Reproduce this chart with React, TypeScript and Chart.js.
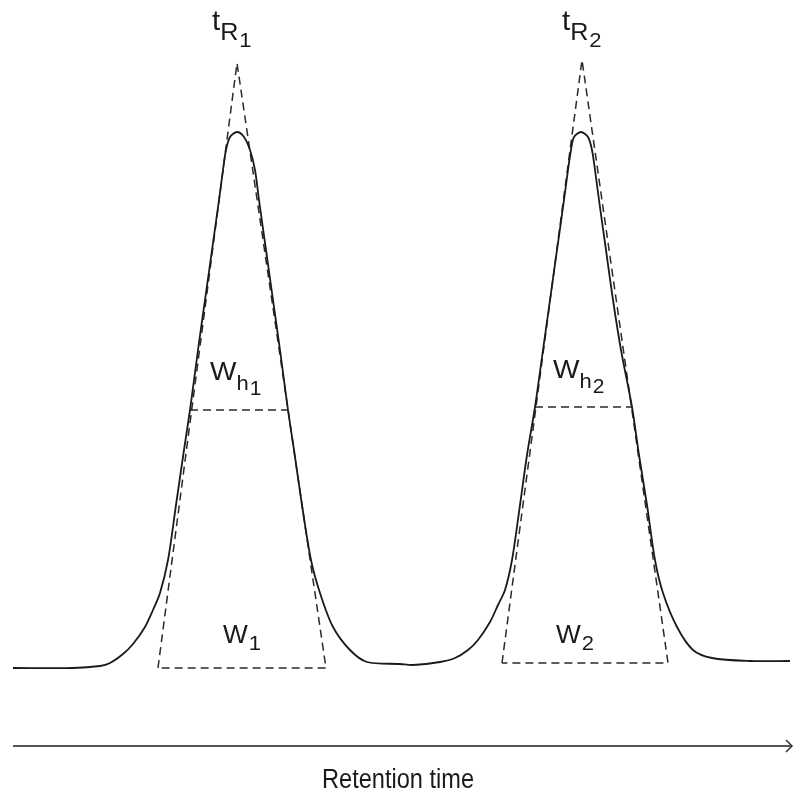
import React, { useEffect, useRef } from "react";
import { Chart, registerables } from "chart.js";

Chart.register(...registerables);

// Chromatogram trace (x = retention position, y = signal, screen-down units)
const curveX = [13, 73, 100, 110, 123, 133, 145, 153, 160, 168, 176, 184, 190, 198, 205, 212, 219, 223, 226, 230, 237, 244, 250, 255, 259, 266, 273, 280, 288, 294, 302, 311, 320, 333, 350, 367, 400, 413, 440, 455, 468, 478, 490, 498, 505, 512, 520, 527, 535, 543, 550, 557, 564, 568, 571, 574, 581, 588, 592, 595, 599, 606, 613, 621, 632, 639, 647, 655, 663, 677, 693, 712, 750, 790];
const curveY = [668, 668, 666, 663, 654, 644, 627, 610, 593, 560, 505, 450, 410, 350, 300, 250, 200, 170, 150, 137, 132, 137, 150, 170, 200, 250, 300, 350, 410, 450, 505, 560, 593, 627, 650, 662, 664, 665, 662, 658, 650, 640, 622, 605, 590, 560, 505, 455, 407, 350, 300, 250, 200, 170, 150, 137, 132, 137, 150, 170, 200, 250, 300, 350, 407, 455, 505, 560, 593, 627, 650, 658, 661, 661];

// Tangent triangles (base-left, apex, base-right)
const tri1X = [158, 237, 326, 158];
const tri1Y = [668, 63, 668, 668];
const tri2X = [502, 582, 668, 502];
const tri2Y = [663, 60, 663, 663];

// Half-height width lines
const half1X = [190, 288];
const half1Y = [410, 410];
const half2X = [535, 632];
const half2Y = [407, 407];

// Time axis
const axisX = [13, 791];
const axisY = [746, 746];
const arrowX = [786, 792, 786];
const arrowY = [740, 746, 752];

// Labels: main text, subscript, sub-subscript, anchor x, baseline y
const labelMain = ["t", "t", "W", "W", "W", "W"];
const labelSub = ["R", "R", "h", "h", "", ""];
const labelSub2 = ["1", "2", "1", "2", "1", "2"];
const labelX = [212, 562, 210, 553, 223, 556];
const labelY = [30, 30, 380, 378, 643, 643];

const axisTitle = "Retention time";

const pts = (xs: number[], ys: number[]) => xs.map((x, i) => ({ x, y: ys[i] }));

const FONT = "'Liberation Sans', Arial, sans-serif";

function piece(ctx: any, text: string, size: number, x: number, y: number, sx: number) {
  ctx.font = `${size}px ${FONT}`;
  ctx.save();
  ctx.translate(x, y);
  ctx.scale(sx, 1);
  ctx.fillText(text, 0, 0);
  ctx.restore();
  return ctx.measureText(text).width * sx;
}

const labelsPlugin = {
  id: "chromLabels",
  afterDatasetsDraw(chart: any) {
    const { ctx, scales } = chart;
    const sx = scales.x;
    const sy = scales.y;
    ctx.save();
    ctx.fillStyle = "#1a1a1a";
    ctx.textBaseline = "alphabetic";
    ctx.textAlign = "left";
    for (let i = 0; i < labelMain.length; i++) {
      let x = sx.getPixelForValue(labelX[i]);
      const y = sy.getPixelForValue(labelY[i]);
      if (labelMain[i] === "t") {
        x += piece(ctx, "t", 28, x, y, 1.05);
        x += piece(ctx, labelSub[i], 24, x, y + 10, 1.05) + 1;
        piece(ctx, labelSub2[i], 21, x, y + 17, 1.05);
      } else if (labelSub[i]) {
        x += piece(ctx, "W", 25, x, y, 1.12);
        x += piece(ctx, labelSub[i], 21, x, y + 10, 1.05) + 1;
        piece(ctx, labelSub2[i], 20, x, y + 15, 1.05);
      } else {
        x += piece(ctx, "W", 25, x, y, 1.05) + 1;
        piece(ctx, labelSub2[i], 21, x, y + 7, 1.05);
      }
    }
    ctx.font = `27px ${FONT}`;
    ctx.textAlign = "left";
    ctx.fillText(axisTitle, sx.getPixelForValue(322), sy.getPixelForValue(788), 152);
    ctx.restore();
  },
};

export default function App() {
  const ref = useRef<HTMLCanvasElement>(null);
  useEffect(() => {
    document.body.style.margin = "0";
    const dashed = { borderColor: "#2a2a2a", borderWidth: 1.5, borderDash: [8, 5], pointRadius: 0, showLine: true, fill: false, tension: 0 };
    const chart = new Chart(ref.current as HTMLCanvasElement, {
      type: "scatter",
      data: {
        datasets: [
          { data: pts(curveX, curveY), borderColor: "#1a1a1a", borderWidth: 1.8, pointRadius: 0, showLine: true, tension: 0.3, fill: false } as any,
          { data: pts(tri1X, tri1Y), ...dashed } as any,
          { data: pts(tri2X, tri2Y), ...dashed } as any,
          { data: pts(half1X, half1Y), ...dashed } as any,
          { data: pts(half2X, half2Y), ...dashed } as any,
          { data: pts(axisX, axisY), borderColor: "#555555", borderWidth: 2, pointRadius: 0, showLine: true } as any,
          { data: pts(arrowX, arrowY), borderColor: "#333333", borderWidth: 1.5, pointRadius: 0, showLine: true } as any,
        ],
      },
      options: {
        animation: false,
        responsive: false,
        devicePixelRatio: 1,
        layout: { padding: 0 },
        plugins: { legend: { display: false }, tooltip: { enabled: false } },
        scales: {
          x: { type: "linear", min: 0, max: 794, display: false },
          y: { type: "linear", min: 0, max: 796, reverse: true, display: false },
        },
      },
      plugins: [labelsPlugin],
    });
    return () => chart.destroy();
  }, []);
  return (
    <div style={{ width: 794, height: 796, background: "#fff" }}>
      <canvas ref={ref} width={794} height={796} />
    </div>
  );
}
